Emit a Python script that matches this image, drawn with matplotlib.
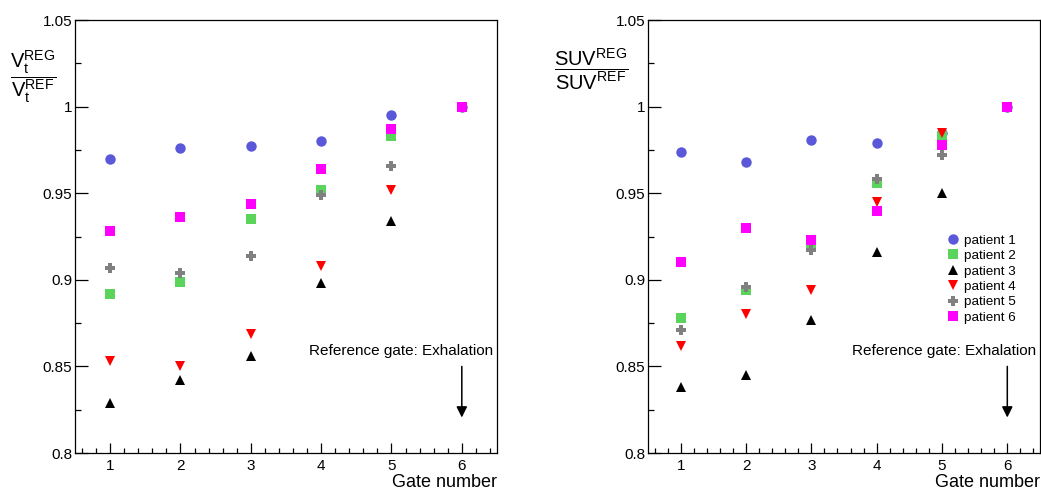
import matplotlib
matplotlib.use("Agg")
import matplotlib.pyplot as plt
from matplotlib.ticker import MultipleLocator, FuncFormatter

plt.rcParams['font.family'] = ['Liberation Sans', 'DejaVu Sans']
plt.rcParams['mathtext.fontset'] = 'custom'
plt.rcParams['mathtext.rm'] = 'Liberation Sans'
plt.rcParams['mathtext.it'] = 'Liberation Sans'
plt.rcParams['mathtext.bf'] = 'Liberation Sans:bold'

gates = [1, 2, 3, 4, 5, 6]
patients = ["patient 1", "patient 2", "patient 3", "patient 4", "patient 5", "patient 6"]

# Vt ratio (left panel)
vt_p1 = [0.970, 0.976, 0.977, 0.980, 0.995, 1.0]
vt_p2 = [0.892, 0.899, 0.935, 0.952, 0.983, 1.0]
vt_p3 = [0.829, 0.842, 0.856, 0.898, 0.934, 1.0]
vt_p4 = [0.853, 0.850, 0.869, 0.908, 0.952, 1.0]
vt_p5 = [0.907, 0.904, 0.914, 0.949, 0.966, 1.0]
vt_p6 = [0.928, 0.936, 0.944, 0.964, 0.987, 1.0]

# SUV ratio (right panel)
suv_p1 = [0.974, 0.968, 0.981, 0.979, 0.985, 1.0]
suv_p2 = [0.878, 0.894, 0.920, 0.956, 0.983, 1.0]
suv_p3 = [0.838, 0.845, 0.877, 0.916, 0.950, 1.0]
suv_p4 = [0.862, 0.880, 0.894, 0.945, 0.985, 1.0]
suv_p5 = [0.871, 0.896, 0.917, 0.958, 0.972, 1.0]
suv_p6 = [0.910, 0.930, 0.923, 0.940, 0.978, 1.0]

colors = ["#5a58d8", "#5ad45a", "#000000", "#ff0000", "#808080", "#ff00ff"]
markers = ["o", "s", "^", "v", "P", "s"]
sizes = [7.5, 7.2, 6.6, 6.6, 7, 7.5]


def style_axes(ax):
    ax.set_xlim(0.5, 6.5)
    ax.set_ylim(0.8, 1.05)
    ax.xaxis.set_major_locator(MultipleLocator(1))
    ax.xaxis.set_minor_locator(MultipleLocator(0.2))
    ax.yaxis.set_major_locator(MultipleLocator(0.05))
    ax.yaxis.set_minor_locator(MultipleLocator(0.025))
    ax.yaxis.set_major_formatter(FuncFormatter(lambda v, p: "%g" % round(v, 3)))
    ax.tick_params(axis='x', which='major', direction='in', length=7.5, width=0.9,
                   labelsize=11, pad=4, top=False)
    ax.tick_params(axis='x', which='minor', direction='in', length=3.5, width=0.9, top=False)
    ax.tick_params(axis='y', which='major', direction='in', length=9, width=0.9,
                   labelsize=11, pad=2, right=False)
    ax.tick_params(axis='y', which='minor', direction='in', length=4.5, width=0.9, right=False)
    for s in ax.spines.values():
        s.set_linewidth(0.9)
    ax.text(1.0, -0.069, "Gate number", transform=ax.transAxes,
            ha='right', va='center', fontsize=13)
    ax.text(6.44, 0.859, "Reference gate: Exhalation", ha='right', va='center',
            fontsize=11)
    ax.annotate("", xy=(6, 0.8205), xytext=(6, 0.85),
                arrowprops=dict(arrowstyle='-|>', color='k', lw=1.1,
                                mutation_scale=16, shrinkA=0, shrinkB=0))


fig = plt.figure(figsize=(10.41, 4.93), dpi=100)
ax1 = fig.add_axes([0.0720, 0.0811, 0.4054, 0.8783])
ax2 = fig.add_axes([0.6225, 0.0811, 0.3765, 0.8783])

vt_data = [vt_p1, vt_p2, vt_p3, vt_p4, vt_p5, vt_p6]
suv_data = [suv_p1, suv_p2, suv_p3, suv_p4, suv_p5, suv_p6]

for i in range(6):
    ax1.plot(gates, vt_data[i], linestyle='none', marker=markers[i],
             color=colors[i], markersize=sizes[i], markeredgewidth=0, label=patients[i])
    ax2.plot(gates, suv_data[i], linestyle='none', marker=markers[i],
             color=colors[i], markersize=sizes[i], markeredgewidth=0, label=patients[i])

style_axes(ax1)
style_axes(ax2)

ax2.legend(loc='upper left', bbox_to_anchor=(0.765, 0.505), frameon=False,
           fontsize=9.7, handlelength=0.8, handletextpad=0.4, labelspacing=0.22,
           borderaxespad=0, borderpad=0)

fig.text(33 / 1041, 1 - 77 / 493, r"$\dfrac{\mathrm{V_t^{REG}}}{\mathrm{V_t^{REF}}}$",
         ha='center', va='center', fontsize=14.5)
fig.text(591 / 1041, 1 - 69 / 493, r"$\dfrac{\mathrm{SUV^{REG}}}{\mathrm{SUV^{REF}}}$",
         ha='center', va='center', fontsize=14.5)

fig.savefig("out.png", dpi=100)
